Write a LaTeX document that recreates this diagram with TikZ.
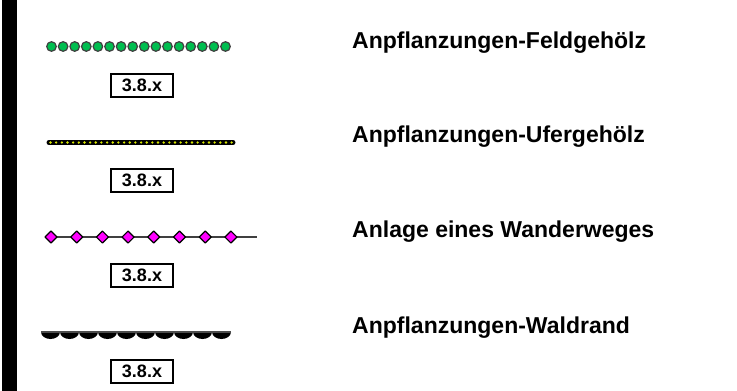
\documentclass[tikz,border=0pt]{standalone}
\usepackage{fontspec}
\setmainfont{Liberation Sans}
\definecolor{hedgegreen}{RGB}{0,190,80}
\definecolor{bankyellow}{RGB}{215,230,0}
\definecolor{pathpink}{RGB}{255,0,255}

\begin{document}
\begin{tikzpicture}[x=1pt,y=-1pt,
    code box/.style={draw,line width=2pt,inner sep=0pt,minimum width=62pt,minimum height=23pt,font=\bfseries\fontsize{18}{18}\selectfont},
    legend text/.style={anchor=base west,inner sep=0pt,font=\bfseries\fontsize{23}{23}\selectfont}]
    \useasboundingbox (0,0) rectangle (737,391);
    \fill (2,0) rectangle (17,391);

    % Feldgehoelz
    \foreach \i in {0,...,15}
        \filldraw[fill=hedgegreen,draw=black!75,line width=1.2pt] (51.5+\i*11.6,46.5) circle (4.8pt);
    \node[code box] (box1) at (142,85) {3.8.x};
    \node[legend text] (text1) at (352,48) {Anpflanzungen-Feldgehölz};

    % Ufergehoelz
    \draw[line width=5pt,line cap=round] (49,142.5) -- (233,142.5);
    \foreach \i in {0,...,32}
        \fill[bankyellow] (50.5+\i*5.66,142.5) circle (1.3pt);
    \node[code box] (box2) at (142,180) {3.8.x};
    \node[legend text] (text2) at (352,142) {Anpflanzungen-Ufergehölz};

    % Wanderweg
    \draw[black!75,line width=1.4pt] (46,237) -- (257,237);
    \foreach \i in {0,...,7}
        \filldraw[fill=pathpink,draw=black,line width=1.2pt,line join=round]
            (51+\i*25.7-6,237) -- ++(6,-6) -- ++(6,6) -- ++(-6,6) -- cycle;
    \node[code box] (box3) at (142,275) {3.8.x};
    \node[legend text] (text3) at (352,237) {Anlage eines Wanderweges};

    % Waldrand
    \foreach \i in {0,...,9}
        \fill (41+\i*19,332) arc[start angle=180,end angle=360,x radius=9.5pt,y radius=7pt] -- cycle;
    \draw[black!70,line width=1.6pt] (41,332) -- (231,332);
    \node[code box] (box4) at (142,371) {3.8.x};
    \node[legend text] (text4) at (352,333) {Anpflanzungen-Waldrand};
\end{tikzpicture}
\end{document}
